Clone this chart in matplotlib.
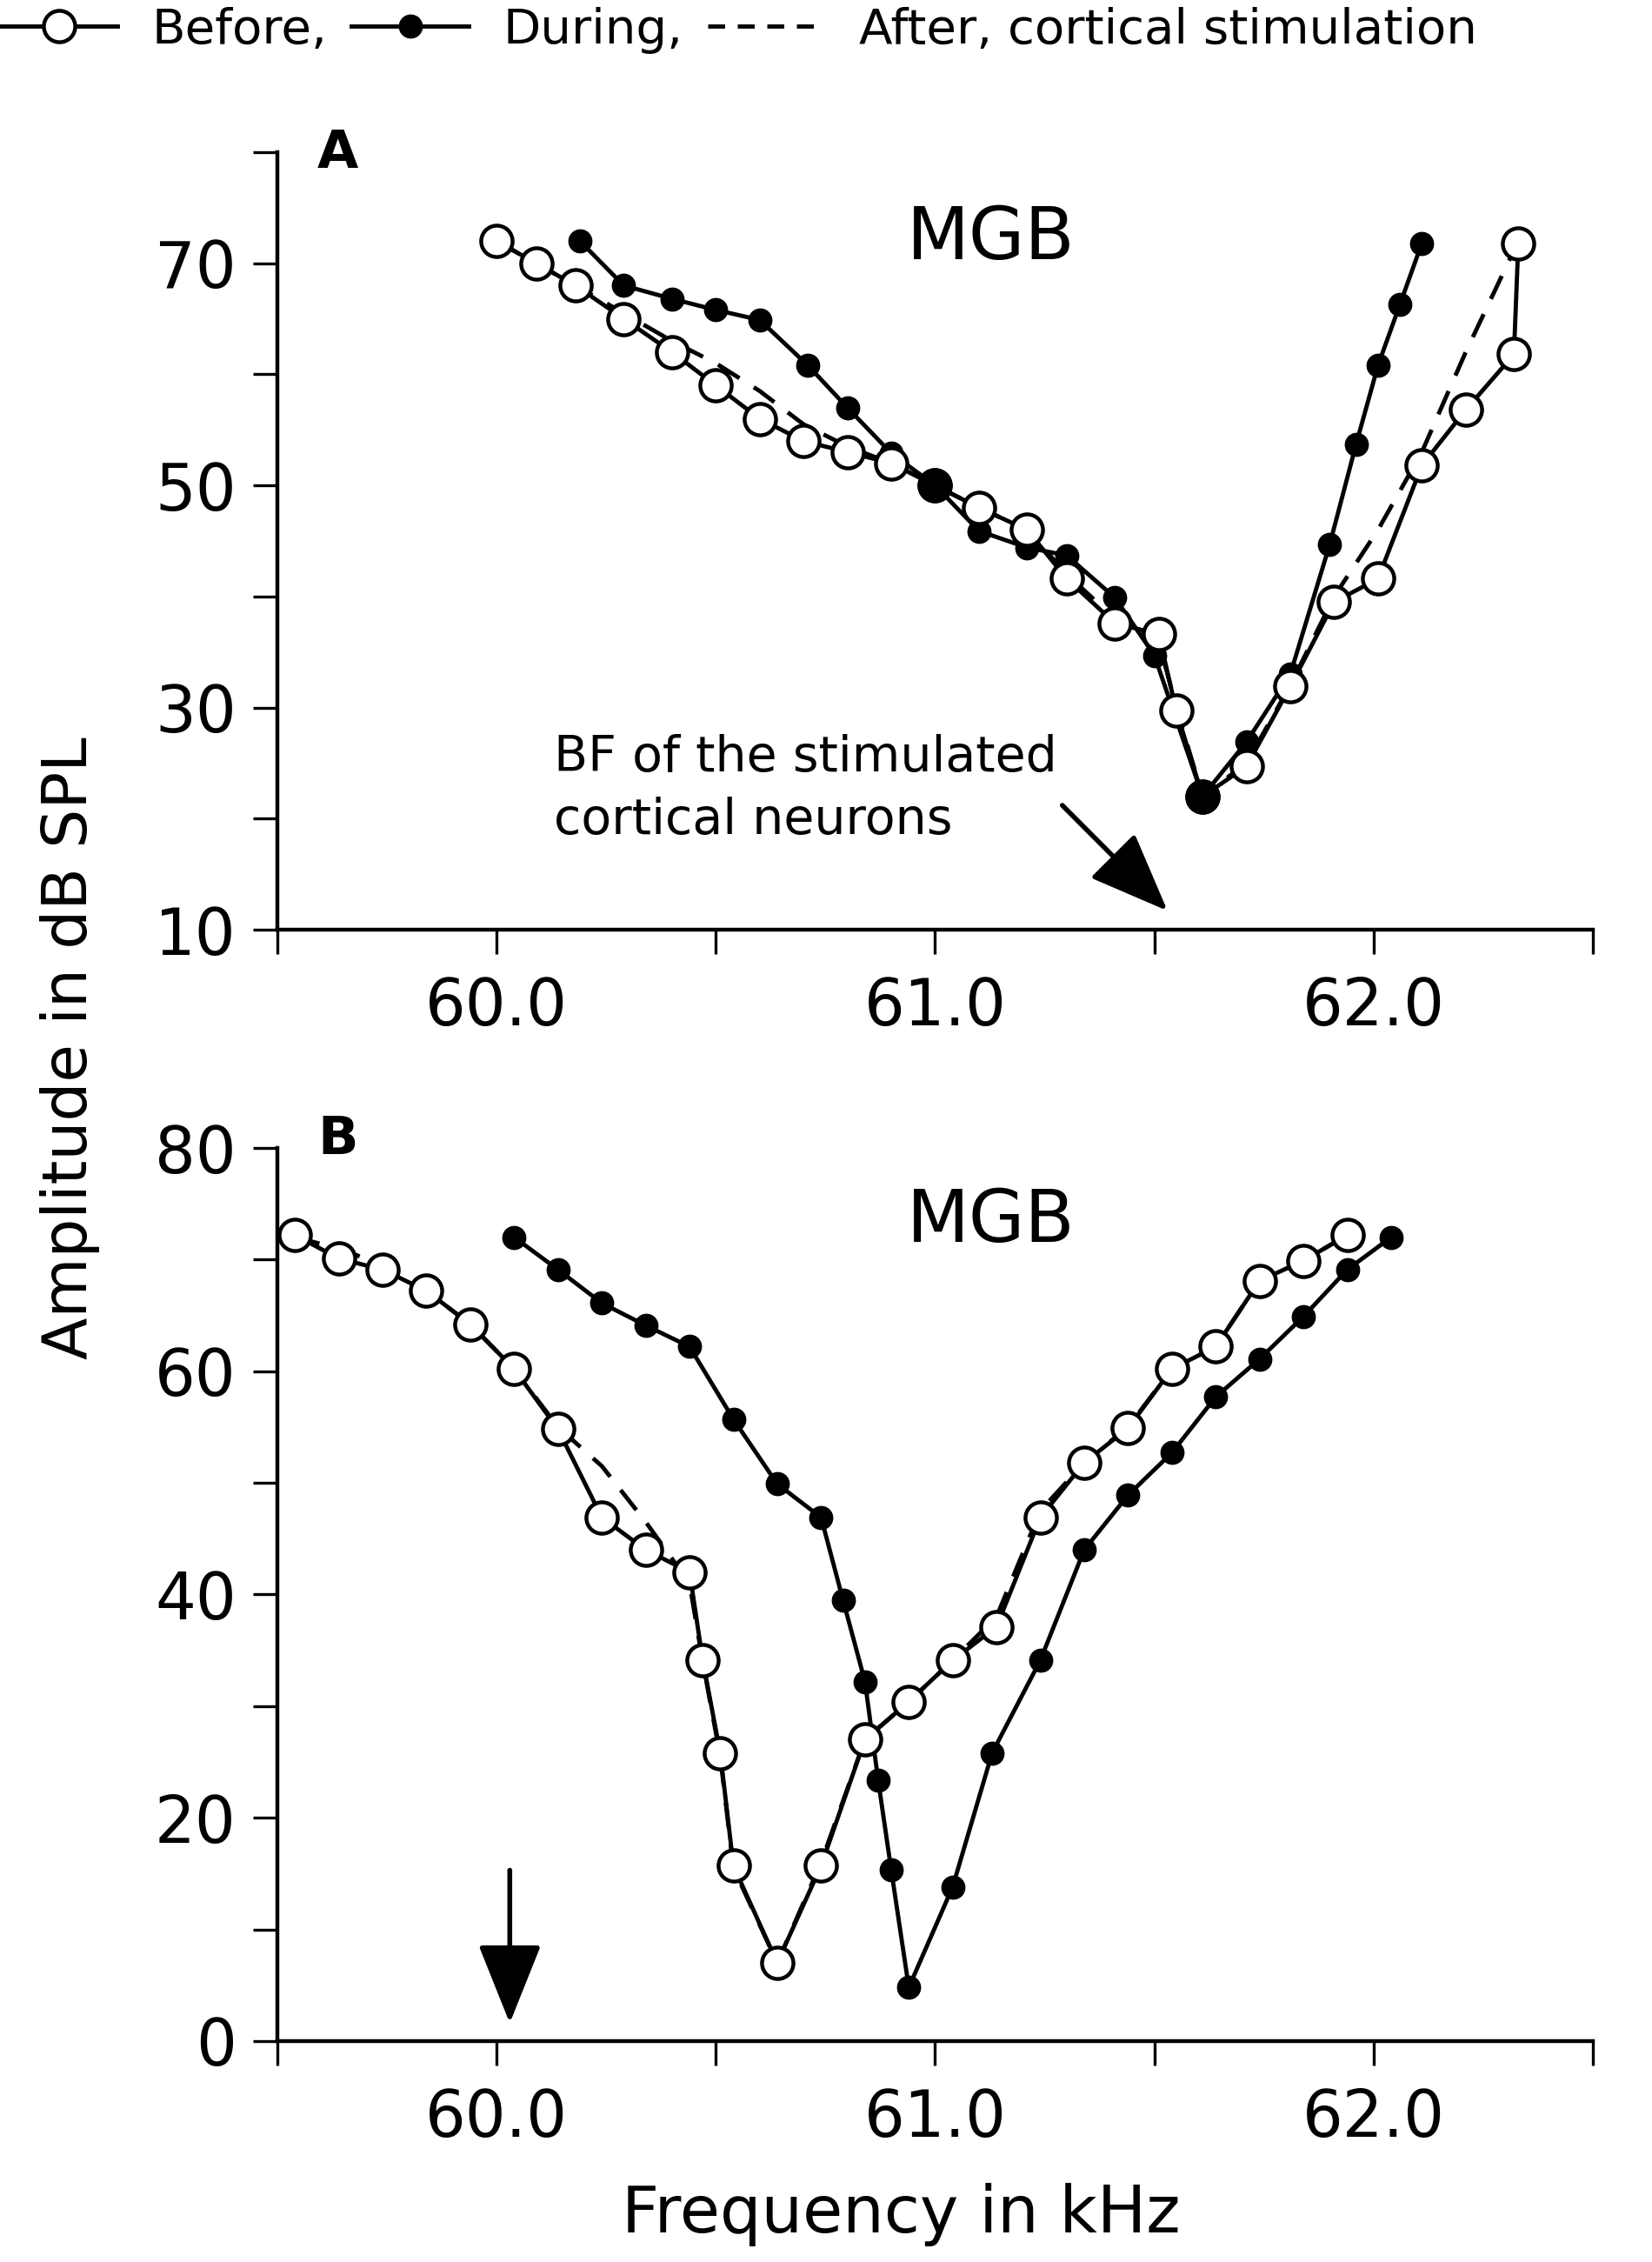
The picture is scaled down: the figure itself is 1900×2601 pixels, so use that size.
import matplotlib
matplotlib.use('Agg')
import matplotlib.pyplot as plt
from matplotlib.lines import Line2D

# ---- panel A (frequency in kHz, amplitude in dB SPL) ----
a_before_khz = [60.0, 60.09, 60.18, 60.29, 60.4, 60.5, 60.6, 60.7, 60.8, 60.9, 61.0, 61.1, 61.21,
                61.3, 61.41, 61.51, 61.55, 61.61, 61.71, 61.81, 61.91, 62.01, 62.11, 62.21, 62.32, 62.33]
a_before_db = [72, 70, 68, 65, 62, 59, 56, 54, 53, 52, 50, 48, 46,
               41.6, 37.6, 36.6, 29.7, 22, 24.7, 31.9, 39.5, 41.6, 51.8, 56.8, 61.8, 71.8]

a_during_khz = [60.19, 60.29, 60.4, 60.5, 60.6, 60.71, 60.8, 60.9, 61.0, 61.1, 61.21, 61.3, 61.41,
                61.5, 61.61, 61.71, 61.81, 61.9, 61.96, 62.01, 62.06, 62.11]
a_during_db = [72, 68, 66.8, 65.8, 64.9, 60.8, 57, 52.9, 50, 45.9, 44.4, 43.7, 39.9,
               34.7, 22, 26.9, 33, 44.7, 53.7, 60.8, 66.3, 71.8]

a_after_khz = [60.0, 60.09, 60.18, 60.29, 60.4, 60.5, 60.6, 60.7, 60.8, 60.9, 61.0, 61.1, 61.21,
               61.3, 61.41, 61.51, 61.55, 61.61, 61.71, 61.81, 61.91, 62.01, 62.11, 62.21, 62.33]
a_after_db = [72, 70, 68, 65.5, 63, 61, 58.5, 55.5, 53.5, 52, 50, 48, 46,
              42, 38, 36, 30, 22, 25, 32, 40, 46, 53, 62, 72]

# ---- panel B ----
b_before_khz = [59.54, 59.64, 59.74, 59.84, 59.94, 60.04, 60.14, 60.24, 60.34, 60.44, 60.47, 60.51,
                60.54, 60.64, 60.74, 60.84, 60.94, 61.04, 61.14, 61.24, 61.34, 61.44, 61.54, 61.64,
                61.74, 61.84, 61.94]
b_before_db = [72.2, 70.1, 69.1, 67.2, 64.2, 60.2, 54.8, 46.9, 44.0, 42.0, 34.1, 25.8,
               15.7, 7.0, 15.7, 27.0, 30.4, 34.1, 37.1, 46.9, 51.8, 54.9, 60.2, 62.2,
               68.1, 69.9, 72.2]

b_during_khz = [60.04, 60.14, 60.24, 60.34, 60.44, 60.54, 60.64, 60.74, 60.79, 60.84, 60.87, 60.9,
                60.94, 61.04, 61.13, 61.24, 61.34, 61.44, 61.54, 61.64, 61.74, 61.84, 61.94, 62.04]
b_during_db = [72.0, 69.1, 66.1, 64.1, 62.2, 55.7, 49.9, 46.9, 39.5, 32.2, 23.4, 15.3,
               4.8, 13.8, 25.8, 34.1, 44.0, 48.9, 52.7, 57.7, 61.1, 64.9, 69.1, 72.0]

b_after_khz = list(b_before_khz)
b_after_db = [72, 71, 69.5, 67.2, 64.2, 60.2, 55, 51.5, 46.5, 41, 34, 25.5,
              15.5, 7, 16, 27, 30.4, 34.1, 38, 47.5, 51.8, 55, 60.2, 62.2,
              68.1, 69.9, 72.2]

# ---- axes ticks ----
x_ticks = [59.5, 60.0, 60.5, 61.0, 61.5, 62.0, 62.5]
x_tick_labels = ['', '60.0', '', '61.0', '', '62.0', '']
a_y_ticks = [10, 20, 30, 40, 50, 60, 70, 80]
a_y_tick_labels = ['10', '', '30', '', '50', '', '70', '']
b_y_ticks = [0, 10, 20, 30, 40, 50, 60, 70, 80]
b_y_tick_labels = ['0', '', '20', '', '40', '', '60', '', '80']

# annotations
a_arrow_tail = (61.29, 21.2)
a_arrow_tip = (61.53, 11.7)
b_arrow_tail = (60.03, 15.3)
b_arrow_tip = (60.03, 1.6)

LW = 3.5
before_style = dict(color='black', lw=LW, marker='o', markersize=26, markerfacecolor='white',
                    markeredgecolor='black', markeredgewidth=3.2)
during_style = dict(color='black', lw=LW, marker='o', markersize=19, markerfacecolor='black',
                    markeredgecolor='black', markeredgewidth=1.0)
after_style = dict(color='black', lw=LW, linestyle=(0, (6, 4)))

fig = plt.figure(figsize=(19, 26.01), dpi=100)
ax_a = fig.add_axes([0.1679, 0.589, 0.7963, 0.3437])
ax_b = fig.add_axes([0.1679, 0.0977, 0.7963, 0.3948])


def draw_panel(ax, bx, by, dx, dy, ax_x, ax_y, yticks, ylabels, ylim, letter, letter_y, mgb_y):
    ax.plot(ax_x, ax_y, zorder=2, clip_on=False, **after_style)
    ax.plot(dx, dy, zorder=3, clip_on=False, **during_style)
    ax.plot(bx, by, zorder=4, clip_on=False, **before_style)
    # where during and before coincide the filled dot is drawn larger on top
    big_x, big_y = [], []
    for x, y in zip(dx, dy):
        for x2, y2 in zip(bx, by):
            if abs(x - x2) < 0.02 and abs(y - y2) < 0.6:
                big_x.append(x)
                big_y.append(y)
    ax.plot(big_x, big_y, 'o', color='black', markersize=28, zorder=5, clip_on=False)

    ax.set_xlim(59.5, 62.5)
    ax.set_ylim(*ylim)
    ax.set_xticks(x_ticks)
    ax.set_xticklabels(x_tick_labels)
    ax.set_yticks(yticks)
    ax.set_yticklabels(ylabels)
    ax.tick_params(direction='out', length=20, width=2.4, labelsize=53, pad=14)
    ax.tick_params(axis='x', pad=18)
    for side in ['top', 'right']:
        ax.spines[side].set_visible(False)
    for side in ['left', 'bottom']:
        ax.spines[side].set_linewidth(3.2)
    ax.text(0.046, letter_y, letter, transform=ax.transAxes, fontsize=44, fontweight='bold',
            ha='center', va='center')
    ax.text(0.5427, mgb_y, 'MGB', transform=ax.transAxes, fontsize=60, ha='center', va='center')


draw_panel(ax_a, a_before_khz, a_before_db, a_during_khz, a_during_db, a_after_khz, a_after_db,
           a_y_ticks, a_y_tick_labels, (10, 80), 'A', 0.998, 0.889)
draw_panel(ax_b, b_before_khz, b_before_db, b_during_khz, b_during_db, b_after_khz, b_after_db,
           b_y_ticks, b_y_tick_labels, (0, 80), 'B', 1.0097, 0.918)

ax_a.text(60.13, 27.6, 'BF of the stimulated\ncortical neurons', fontsize=41, ha='left', va='top',
          linespacing=1.4)
ax_a.annotate('', xy=a_arrow_tip, xytext=a_arrow_tail,
              arrowprops=dict(arrowstyle='-|>,head_length=0.6,head_width=0.24', mutation_scale=95,
                              lw=4, color='black', shrinkA=0, shrinkB=0))
ax_b.annotate('', xy=b_arrow_tip, xytext=b_arrow_tail,
              arrowprops=dict(arrowstyle='-|>,head_length=0.6,head_width=0.24', mutation_scale=95,
                              lw=4, color='black', shrinkA=0, shrinkB=0))

fig.text(81 / 1900, 0.5367, 'Amplitude in dB SPL', rotation=90, fontsize=51, ha='center', va='center')
fig.text(1036 / 1900, 0.021, 'Frequency in kHz', fontsize=54, ha='center', va='center')

handles = [Line2D([], [], **before_style), Line2D([], [], **during_style),
           Line2D([], [], color='black', lw=LW, linestyle=(0, (4, 3)))]
labels = ['Before,', 'During,', 'After, cortical stimulation']
fig.legend(handles, labels, loc='center left', bbox_to_anchor=(0.0, 1 - 35 / 2601), ncol=3,
           frameon=False, fontsize=40.5, handlelength=2.4, handletextpad=0.7, columnspacing=0.5,
           borderpad=0, borderaxespad=0)

fig.savefig('out.png', dpi=100)
plt.close(fig)
